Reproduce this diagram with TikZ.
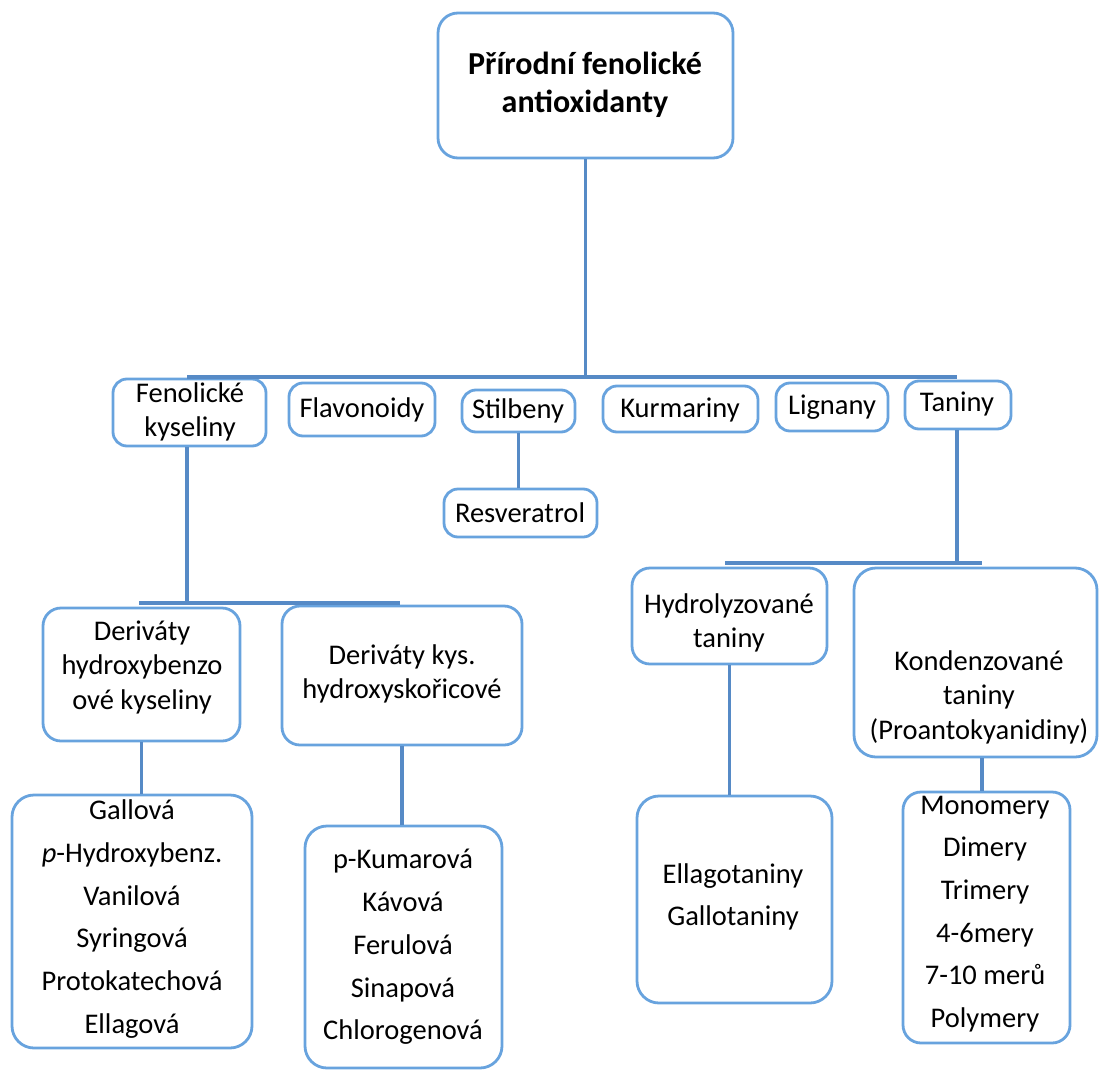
\documentclass[tikz,border=0pt]{standalone}
\usepackage{fontspec}
\setmainfont{Carlito}
\usetikzlibrary{fit}
\definecolor{boxblue}{RGB}{104,163,222}
\definecolor{lineblue}{RGB}{86,138,198}
\begin{document}
\begin{tikzpicture}[x=1pt,y=-1pt,
  box/.style={draw=boxblue, line width=2.8pt, rounded corners=14pt, inner sep=0pt, fill=white},
  lbl/.style={align=center, font=\fontsize{28.5}{34.5}\selectfont, inner sep=0pt},
  listlbl/.style={lbl, font=\fontsize{28.5}{42.7}\selectfont},
  conn/.style={draw=lineblue, line width=3.8pt},
  busline/.style={draw=lineblue, line width=4.8pt}]
\useasboundingbox (0,0) rectangle (1099,1070);
% junction coordinates
\coordinate (busL) at (187,377);
\coordinate (busR) at (957,377);
\coordinate (fkL) at (139,603);
\coordinate (fkR) at (400,603);
\coordinate (tbL) at (725,563);
\coordinate (tbR) at (982,563);
% boxes
\node[box, rounded corners=20pt, fit={(438,13) (733,158)}] (root) {};
\node[box, fit={(113,379) (266,446)}] (fk) {};
\node[box, fit={(289,383) (435,436)}] (flav) {};
\node[box, fit={(462,390) (575,432)}] (stil) {};
\node[box, fit={(603,386) (758,432)}] (kurm) {};
\node[box, fit={(776,383) (888,431)}] (lign) {};
\node[box, fit={(905,381) (1011,429)}] (tan) {};
\node[box, fit={(444,489) (597,537)}] (resv) {};
\node[box, rounded corners=18pt, fit={(43,608) (240,741)}] (hb) {};
\node[box, rounded corners=18pt, fit={(282,606) (522,745)}] (hs) {};
\node[box, rounded corners=18pt, fit={(632,568) (827,664)}] (hyd) {};
\node[box, rounded corners=22pt, fit={(854,568) (1097,757)}] (kon) {};
\node[box, rounded corners=22pt, fit={(12,795) (252,1048)}] (gal) {};
\node[box, rounded corners=22pt, fit={(305,826) (502,1068)}] (kum) {};
\node[box, rounded corners=22pt, fit={(637,796) (832,1003)}] (ell) {};
\node[box, rounded corners=18pt, fit={(903,792) (1070,1043)}] (mon) {};
% connectors
\draw[conn] (root.south) -- (root.south |- busL);
\draw[busline] (busL) -- (busR);
\draw[conn] (stil.south) -- (stil.south |- resv.north);
\draw[conn] (fk.south -| busL) -- (fkL -| busL);
\draw[conn] (fkL) -- (fkR);
\draw[conn] (hb.south) -- (hb.south |- gal.north);
\draw[conn] (hs.south) -- (hs.south |- kum.north);
\draw[conn] (tan.south -| busR) -- (tbL -| busR);
\draw[conn] (tbL) -- (tbR);
\draw[conn] (hyd.south) -- (hyd.south |- ell.north);
\draw[conn] (kon.south -| tbR) -- (mon.north -| tbR);
% texts
\node[lbl, font=\fontsize{32}{38}\selectfont\bfseries] (roott) at (585,85) {Přírodní fenolické\\antioxidanty};
\node[lbl] (fkt) at (190,412) {Fenolické\\kyseliny};
\node[lbl] (flavt) at (362,410) {Flavonoidy};
\node[lbl] (stilt) at (518,411) {Stilbeny};
\node[lbl] (kurmt) at (680,410) {Kurmariny};
\node[lbl] (lignt) at (832,407) {Lignany};
\node[lbl] (tant) at (957,404) {Taniny};
\node[lbl] (resvt) at (520,513) {Resveratrol};
\node[lbl] (hbt) at (142,667) {Deriváty\\hydroxybenzo\\ové kyseliny};
\node[lbl] (hst) at (402,674) {Deriváty kys.\\hydroxyskořicové};
\node[lbl] (hydt) at (729,623) {Hydrolyzované\\taniny};
\node[lbl] (kont) at (979,697) {Kondenzované\\taniny\\(Proantokyanidiny)};
\node[listlbl] (galt) at (132,919) {Gallová\\\textit{p}-Hydroxybenz.\\Vanilová\\Syringová\\Protokatechová\\Ellagová};
\node[listlbl] (kumt) at (403,947) {p-Kumarová\\Kávová\\Ferulová\\Sinapová\\Chlorogenová};
\node[listlbl] (ellt) at (733,897) {Ellagotaniny\\Gallotaniny};
\node[listlbl] (mont) at (985,914) {Monomery\\Dimery\\Trimery\\4-6mery\\7-10 merů\\Polymery};
\end{tikzpicture}
\end{document}
